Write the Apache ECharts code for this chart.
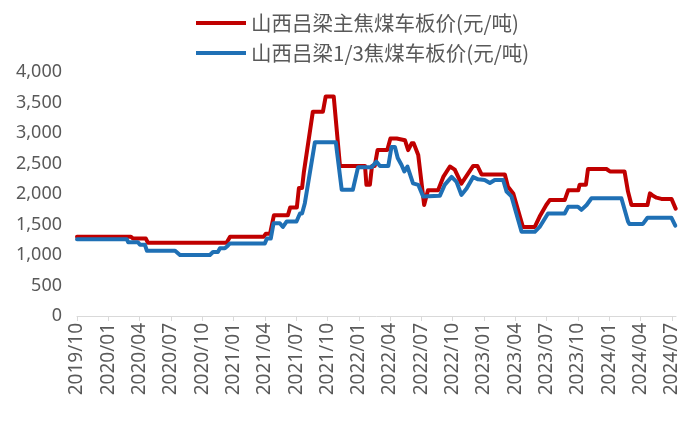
<!DOCTYPE html>
<html>
<head>
<meta charset="utf-8">
<script src="https://cdn.jsdelivr.net/npm/echarts@6/dist/echarts.min.js"></script>
<style>
html,body{margin:0;padding:0;background:#fff;}
#c{width:700px;height:421px;}
</style>
</head>
<body>
<div id="c"></div>
<script>
const seriesNames = ['山西吕梁主焦煤车板价(元/吨)', '山西吕梁1/3焦煤车板价(元/吨)'];
const xTickLabels = ['2019/10','2020/01','2020/04','2020/07','2020/10','2021/01','2021/04','2021/07','2021/10','2022/01','2022/04','2022/07','2022/10','2023/01','2023/04','2023/07','2023/10','2024/01','2024/04','2024/07'];
const yTickValues = [0,500,1000,1500,2000,2500,3000,3500,4000];

const redDates = ['2019-10-01','2020-03-06','2020-03-12','2020-04-19','2020-04-25','2020-12-11','2020-12-21','2021-03-28','2021-04-04','2021-04-16','2021-04-27','2021-06-07','2021-06-14','2021-07-03','2021-07-09','2021-07-18','2021-07-23','2021-08-19','2021-09-18','2021-09-26','2021-10-19','2021-11-07','2022-01-19','2022-01-23','2022-02-03','2022-02-09','2022-02-17','2022-02-25','2022-03-23','2022-04-02','2022-04-20','2022-04-24','2022-05-14','2022-05-23','2022-06-03','2022-06-09','2022-06-22','2022-07-09','2022-07-20','2022-08-19','2022-09-04','2022-09-23','2022-10-07','2022-10-26','2022-11-30','2022-12-12','2022-12-24','2023-01-18','2023-01-23','2023-02-02','2023-03-01','2023-03-10','2023-03-25','2023-04-23','2023-05-27','2023-06-11','2023-06-30','2023-07-10','2023-08-23','2023-09-03','2023-10-02','2023-10-06','2023-10-24','2023-10-30','2023-12-23','2024-01-03','2024-02-15','2024-02-25','2024-03-05','2024-04-21','2024-04-28','2024-05-07','2024-05-17','2024-06-01','2024-06-30','2024-07-12'];
const redValues = [1300,1300,1270,1270,1200,1200,1300,1300,1350,1350,1650,1650,1780,1780,2100,2100,2350,3350,3350,3600,3600,2460,2460,2150,2150,2460,2460,2720,2720,2910,2910,2880,2880,2720,2830,2830,2640,1820,2060,2060,2280,2450,2400,2170,2460,2460,2320,2320,2290,2320,2320,2120,2010,1460,1460,1630,1820,1900,1900,2060,2060,2150,2150,2410,2410,2370,2370,2040,1820,1820,2010,1970,1940,1920,1920,1760];

const blueDates = ['2019-10-01','2020-02-24','2020-02-28','2020-03-26','2020-04-02','2020-04-16','2020-04-22','2020-07-13','2020-07-27','2020-10-23','2020-11-02','2020-11-16','2020-11-22','2020-12-06','2020-12-12','2020-12-21','2021-04-01','2021-04-07','2021-04-18','2021-04-26','2021-05-14','2021-05-23','2021-06-04','2021-07-02','2021-07-12','2021-07-18','2021-07-26','2021-08-25','2021-10-25','2021-11-12','2021-12-14','2021-12-29','2022-02-08','2022-02-22','2022-03-02','2022-03-26','2022-04-05','2022-04-15','2022-04-23','2022-05-04','2022-05-12','2022-05-21','2022-06-07','2022-06-22','2022-07-06','2022-08-24','2022-09-08','2022-09-28','2022-10-12','2022-10-26','2022-11-11','2022-11-30','2022-12-14','2023-01-03','2023-01-18','2023-02-02','2023-02-26','2023-03-06','2023-03-20','2023-04-19','2023-05-27','2023-06-11','2023-07-05','2023-08-23','2023-09-03','2023-10-01','2023-10-11','2023-10-26','2023-11-10','2024-02-06','2024-02-25','2024-02-29','2024-04-08','2024-04-21','2024-06-30','2024-07-11'];
const blueValues = [1260,1260,1210,1210,1170,1170,1070,1070,1000,1000,1050,1050,1110,1110,1140,1190,1190,1270,1270,1520,1520,1460,1550,1550,1680,1680,1850,2850,2850,2070,2070,2440,2440,2530,2460,2460,2770,2770,2590,2475,2370,2450,2175,2150,1960,1970,2150,2280,2200,1985,2090,2280,2240,2230,2180,2230,2230,2040,1960,1380,1380,1460,1680,1680,1790,1790,1740,1820,1930,1930,1550,1510,1510,1610,1610,1480];

// months elapsed since 2019/10/01
function toMonth(s) {
  const p = s.split('-').map(Number);
  return (p[0] - 2019) * 12 + (p[1] - 10) + (p[2] - 1) / 30;
}
const redData = redDates.map((d, i) => [toMonth(d), redValues[i]]);
const blueData = blueDates.map((d, i) => [toMonth(d), blueValues[i]]);

const chart = echarts.init(document.getElementById('c'), null, {renderer: 'canvas'});
const textColor = '#595959';
chart.setOption({
  animation: false,
  backgroundColor: '#ffffff',
  legend: {
    orient: 'vertical',
    left: 196,
    top: 12,
    padding: 0,
    itemWidth: 50,
    itemHeight: 4,
    itemGap: 8,
    icon: 'rect',
    textStyle: {fontFamily: 'Noto Sans CJK SC', fontSize: 20.5, color: textColor, lineHeight: 22},
    data: seriesNames
  },
  grid: {left: 77, right: 24, top: 72, bottom: 105, containLabel: false},
  xAxis: {
    type: 'value',
    min: 0,
    max: 57.4,
    interval: 3,
    splitLine: {show: false},
    axisLine: {show: true, lineStyle: {color: '#D9D9D9', width: 1}},
    axisTick: {show: true, length: 5, lineStyle: {color: '#D9D9D9'}},
    axisLabel: {
      rotate: 90,
      margin: 7,
      color: textColor,
      fontFamily: 'Noto Sans',
      fontSize: 19,
      showMaxLabel: false,
      formatter: function (v) {
        const k = Math.round(v / 3);
        return Math.abs(v - k * 3) < 1e-6 && xTickLabels[k] ? xTickLabels[k] : '';
      }
    }
  },
  yAxis: {
    type: 'value',
    min: yTickValues[0],
    max: yTickValues[yTickValues.length - 1],
    interval: 500,
    splitLine: {show: false},
    axisLine: {show: false},
    axisTick: {show: false},
    axisLabel: {
      margin: 15,
      color: textColor,
      fontFamily: 'Noto Sans',
      fontSize: 18,
      formatter: function (v) { return v.toLocaleString('en-US'); }
    }
  },
  series: [
    {
      name: seriesNames[0], type: 'line', data: redData, showSymbol: false,
      itemStyle: {color: '#C00000'},
      lineStyle: {color: '#C00000', width: 4, join: 'round', cap: 'round'}
    },
    {
      name: seriesNames[1], type: 'line', data: blueData, showSymbol: false,
      itemStyle: {color: '#1F70B5'},
      lineStyle: {color: '#1F70B5', width: 4, join: 'round', cap: 'round'}
    }
  ]
});
</script>
</body>
</html>
